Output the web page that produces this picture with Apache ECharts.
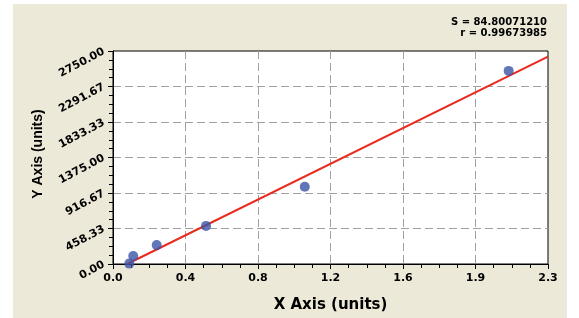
<!DOCTYPE html>
<html><head><meta charset="utf-8">
<script src="https://cdn.jsdelivr.net/npm/echarts@6/dist/echarts.min.js"></script>
<style>html,body{margin:0;padding:0;background:#fff}#c{width:579px;height:318px}</style>
</head><body><div id="c"></div>
<script>
const xLabels = ['0.0','0.4','0.8','1.2','1.6','1.9','2.3'];
const yLabels = ['0.00','458.33','916.67','1375.00','1833.33','2291.67','2750.00'];
const pointsX = [0.086, 0.107, 0.231, 0.492, 1.014, 2.092];
const pointsY = [5, 103, 244, 492, 998, 2493];
const fitX = [0.075, 2.3];
const fitY = [0, 2677];
const statS = 'S = 84.80071210';
const statR = 'r = 0.99673985';
const xTitle = 'X Axis (units)';
const yTitle = 'Y Axis (units)';
const xMax = 2.3, yMax = 2750;

const chart = echarts.init(document.getElementById('c'), null, {renderer:'canvas'});
const dv = '"DejaVu Sans", Verdana, sans-serif';
const ar = '"Liberation Sans", Arial, sans-serif';
chart.setOption({
  animation:false,
  backgroundColor:'#fff',
  graphic:[
    {type:'rect', z:-10, shape:{x:13,y:4,width:554,height:314}, style:{fill:'#ECE9D8'}},
    {type:'text', x:547, y:22.5, style:{text:statS, font:'bold 10px '+dv, fill:'#000', align:'right', verticalAlign:'middle'}},
    {type:'text', x:547, y:33, style:{text:statR, font:'bold 10px '+dv, fill:'#000', align:'right', verticalAlign:'middle'}},
    {type:'text', x:38.5, y:154, rotation:Math.PI/2, style:{text:yTitle, font:'bold 14px '+ar, fill:'#000', align:'center', verticalAlign:'middle'}}
  ],
  grid:{left:113, top:51, right:31, bottom:53, show:true, backgroundColor:'#fff', borderColor:'#000', borderWidth:1},
  xAxis:{type:'value', min:0, max:xMax, interval:xMax/6,
    name:xTitle, nameLocation:'middle', nameGap:34,
    nameTextStyle:{fontFamily:dv, fontWeight:'bold', fontSize:15, color:'#000'},
    axisLine:{lineStyle:{color:'#000', width:1}},
    axisTick:{show:true, length:5, lineStyle:{color:'#000'}},
    minorTick:{show:true, splitNumber:4, length:4, lineStyle:{color:'#000'}},
    axisLabel:{fontFamily:dv, fontWeight:'bold', fontSize:11, color:'#000', margin:9,
      formatter:(v)=>xLabels[Math.round(v/(xMax/6))]},
    splitLine:{show:true, showMinLine:false, showMaxLine:false, lineStyle:{color:'#A0A0A0', type:[8,4], width:1}}
  },
  yAxis:{type:'value', min:0, max:yMax, interval:yMax/6,
    axisLine:{show:true, lineStyle:{color:'#000', width:1}},
    axisTick:{show:true, length:5, lineStyle:{color:'#000'}},
    minorTick:{show:true, splitNumber:4, length:4, lineStyle:{color:'#000'}},
    axisLabel:{fontFamily:dv, fontWeight:'bold', fontSize:11, color:'#000', margin:9, rotate:28,
      formatter:(v)=>yLabels[Math.round(v/(yMax/6))]},
    splitLine:{show:true, showMinLine:false, showMaxLine:false, lineStyle:{color:'#A0A0A0', type:[8,4], width:1}}
  },
  series:[
    {type:'line', data:fitX.map((x,i)=>[x,fitY[i]]), symbol:'none', lineStyle:{color:'#EB2A1E', width:2}, z:2},
    {type:'scatter', data:pointsX.map((x,i)=>[x,pointsY[i]]), symbolSize:10, itemStyle:{color:'#3A54A6'}, z:3}
  ]
});
</script></body></html>
